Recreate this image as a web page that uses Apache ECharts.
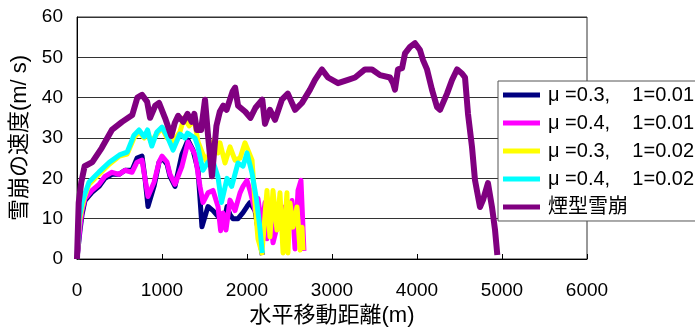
<!DOCTYPE html>
<html>
<head>
<meta charset="utf-8">
<script src="https://cdn.jsdelivr.net/npm/echarts@6/dist/echarts.min.js"></script>
<style>
  html, body { margin: 0; padding: 0; background: #fff; }
  #chart { width: 695px; height: 332px; }
</style>
</head>
<body>
<div id="chart"></div>
<script>
// series names (legend order)
const seriesNames = ['μ =0.3,    1=0.01', 'μ =0.4,    1=0.01', 'μ =0.3,    1=0.02', 'μ =0.4,    1=0.02', '煙型雪崩'];

// [水平移動距離(m), 速度(m/s)]
const navy03_001 = [[0,0],[35,7],[59,11],[94,14.5],[176,16.5],[259,18],[329,20],[412,21],[494,21],[565,22],[647,22],[706,25],[765,25.5],[800,20],[835,13],[906,18],[965,24],[1000,25],[1059,23.5],[1094,20.5],[1153,18],[1235,26],[1306,29.5],[1365,27],[1424,22],[1470,8],[1541,13],[1600,12],[1682,10],[1718,8],[1765,13],[1800,11],[1835,10],[1894,10],[1953,11.5],[2000,13],[2035,14],[2094,12],[2140,6],[2180,1]];
const magenta04_001 = [[0,0],[35,8],[59,12],[94,15],[176,17],[259,18.5],[329,20.5],[412,21.5],[494,21],[565,22],[647,21.5],[706,24],[765,24.5],[800,20],[835,15.5],[906,19],[965,24],[1000,25.5],[1059,24],[1094,21],[1153,18.5],[1235,23],[1306,29],[1388,26],[1447,18],[1482,14],[1541,16.4],[1600,17],[1659,13],[1690,7],[1718,11.4],[1753,7.2],[1800,14.6],[1859,12],[1918,16.4],[1953,18],[2000,19.5],[2035,17],[2094,12],[2129,15],[2176,8],[2212,14],[2235,5],[2270,13],[2306,4],[2365,9],[2412,13],[2447,3],[2494,12],[2529,14.5],[2565,2.5],[2600,17],[2635,19.5],[2670,2]];
const yellow03_002 = [[0,0],[25,9],[60,13],[90,15.5],[140,18.5],[260,21],[380,23.5],[500,25.5],[590,26],[670,30],[730,31.5],[790,30],[830,31.5],[870,29],[940,31],[1000,32.5],[1060,30],[1130,29],[1210,31.5],[1260,35],[1320,33],[1380,34.5],[1424,29],[1480,26],[1530,24],[1580,28],[1624,30],[1659,26.3],[1682,28.8],[1741,23.8],[1800,27.8],[1859,24.5],[1918,25],[1976,28.8],[2012,27],[2059,24.5],[2094,14],[2129,5],[2176,1.5],[2235,17],[2270,5.5],[2306,17],[2353,7.2],[2388,16.4],[2424,1.5],[2470,16.4],[2482,1.5],[2506,13.9],[2541,7.9],[2588,12.9],[2624,2.2],[2647,7.9],[2659,2.2]];
const cyan04_002 = [[0,0],[25,10],[60,14],[90,16],[140,19],[260,21.6],[380,24],[500,25.8],[590,26.5],[670,30.7],[730,32],[790,30.3],[830,32],[860,29.5],[880,28],[940,31.5],[1000,32.7],[1060,30.5],[1130,27],[1210,31],[1270,30],[1300,31.2],[1388,30],[1420,28],[1482,22],[1540,24],[1588,25],[1659,20.3],[1700,14],[1765,20],[1820,18],[1894,23.8],[1953,23],[2000,26.3],[2059,21.3],[2110,15],[2150,8],[2180,1.5]];
const smoke = [[0,0],[20,14],[50,19],[90,23],[180,24],[290,27.5],[410,32],[530,34],[650,35.7],[710,40],[765,40.7],[825,39],[860,35],[920,38],[965,38.7],[1035,35],[1110,30.5],[1150,33.7],[1190,35.5],[1250,34],[1300,36],[1350,34],[1380,36],[1410,32],[1460,32],[1506,39.5],[1540,31],[1588,20.5],[1640,33],[1680,36.5],[1720,38],[1760,37],[1830,41.5],[1860,42.5],[1895,38],[1980,36.5],[2040,35],[2100,37.5],[2180,39.5],[2212,33.5],[2270,37],[2330,34.5],[2410,39.5],[2480,41],[2565,37],[2647,38.7],[2741,42],[2800,44.4],[2882,47],[2953,45],[3071,43.6],[3188,44.4],[3271,45],[3388,47],[3471,47],[3565,45.6],[3682,45],[3718,43.6],[3741,42],[3776,47],[3824,47.3],[3859,51],[3918,52.6],[3976,53.5],[4035,51.8],[4071,49.3],[4118,47],[4176,42],[4235,37.7],[4271,37],[4353,41],[4412,44.4],[4471,47],[4529,46],[4565,45],[4600,36],[4647,27.8],[4682,19.6],[4741,12.9],[4776,14.6],[4835,18.8],[4882,12.9],[4918,7.2],[4945,1]];

const seriesData = [navy03_001, magenta04_001, yellow03_002, cyan04_002, smoke];
const seriesColors = ['#000080', '#ff00ff', '#ffff00', '#00ffff', '#800080'];
const seriesWidths = [5, 5, 5, 5, 6];

const xTicks = { min: 0, max: 6000, step: 1000 };
const yTicks = { min: 0, max: 60, step: 10 };

const FONT = '"Liberation Sans", "Noto Sans CJK JP", sans-serif';

const chart = echarts.init(document.getElementById('chart'), null, { renderer: 'canvas' });

chart.setOption({
  animation: false,
  backgroundColor: '#fff',
  textStyle: { fontFamily: FONT, color: '#000' },
  grid: {
    left: 77, right: 108, top: 17, bottom: 73,
    show: true, borderColor: '#333', borderWidth: 1
  },
  legend: {
    left: 498, top: 81,
    orient: 'vertical',
    icon: 'rect',
    itemWidth: 37, itemHeight: 5,
    itemGap: 8,
    padding: [4, 30, 4, 5],
    backgroundColor: '#fff',
    borderColor: '#555', borderWidth: 1, borderRadius: 0,
    textStyle: { fontSize: 20, fontFamily: FONT, color: '#000', padding: [0, 0, 0, 3] },
    data: seriesNames
  },
  xAxis: {
    type: 'value',
    min: xTicks.min, max: xTicks.max, interval: xTicks.step,
    name: '水平移動距離(m)',
    nameLocation: 'middle',
    nameGap: 44,
    nameTextStyle: { fontSize: 22, fontFamily: FONT, color: '#000' },
    axisLine: { lineStyle: { color: '#000', width: 1 } },
    axisTick: { inside: true, length: 5, lineStyle: { color: '#000' } },
    axisLabel: { fontSize: 19, color: '#000', margin: 22, fontFamily: FONT, formatter: v => String(v) },
    splitLine: { show: false }
  },
  yAxis: {
    type: 'value',
    min: yTicks.min, max: yTicks.max, interval: yTicks.step,
    name: '雪崩の速度(m/ s)',
    nameLocation: 'middle',
    nameGap: 37,
    nameTextStyle: { fontSize: 22, fontFamily: FONT, color: '#000' },
    axisLine: { show: true, lineStyle: { color: '#000', width: 1 } },
    axisTick: { show: false },
    axisLabel: { fontSize: 19, color: '#000', margin: 14, fontFamily: FONT },
    splitLine: { lineStyle: { color: '#333', width: 1 } }
  },
  series: seriesNames.map((name, i) => ({
    name,
    type: 'line',
    data: seriesData[i],
    showSymbol: false,
    symbol: 'none',
    color: seriesColors[i],
    lineStyle: { color: seriesColors[i], width: seriesWidths[i], join: 'round' },
    z: 2 + i
  }))
});
</script>
</body>
</html>
